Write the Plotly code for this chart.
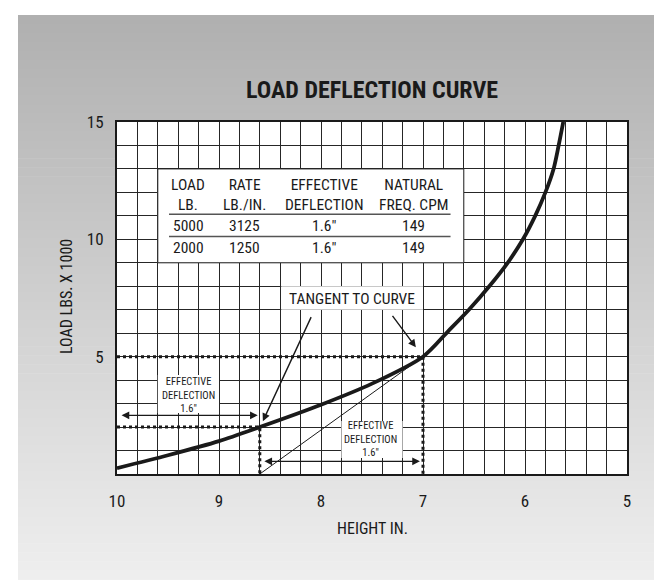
import plotly.graph_objects as go

# ---------------- data ----------------
height_in = [10.0, 9.5, 9.0, 8.6, 8.0, 7.5, 7.0, 6.75, 6.55, 6.35, 6.17, 6.02, 5.9, 5.8, 5.72, 5.67, 5.625]
load_k = [0.25, 0.8, 1.4, 2.0, 2.95, 3.85, 5.0, 6.1, 7.0, 8.0, 9.0, 10.0, 11.0, 12.0, 13.0, 14.0, 15.0]

x_ticks = [10, 9, 8, 7, 6, 5]
y_ticks = [5, 10, 15]

table_header1 = ["LOAD", "RATE", "EFFECTIVE", "NATURAL"]
table_header2 = ["LB.", "LB./IN.", "DEFLECTION", "FREQ. CPM"]
table_row1 = ["5000", "3125", '1.6"', "149"]
table_row2 = ["2000", "1250", '1.6"', "149"]

op_loads = [5.0, 2.0]        # load x1000 at operating points
op_heights = [7.0, 8.6]      # height at operating points
tangent_zero_height = 8.6    # tangent at 5000 lb meets zero load here
deflection_label = ["EFFECTIVE", "DEFLECTION", '1.6"']

# ---------------- style ----------------
FONT = "Roboto Condensed, Roboto, sans-serif"
INK = "#1a1a1a"
GRID = "#262626"

L, R, T, B = 109, 43, 114, 114
W, H = 662, 580
pw, ph = W - L - R, H - T - B


def px2paper_x(px):
    return (px - L) / pw


def px2paper_y(py):
    return (H - B - py) / ph


fig = go.Figure()

# curve
fig.add_trace(go.Scatter(x=height_in, y=load_k, mode="lines",
                         line=dict(color=INK, width=3.8, shape="spline", smoothing=0.8),
                         hoverinfo="skip", showlegend=False))
# tangent line
fig.add_trace(go.Scatter(x=[op_heights[0], tangent_zero_height], y=[op_loads[0], 0],
                         mode="lines", line=dict(color=INK, width=1),
                         hoverinfo="skip", showlegend=False))
# dotted guides
for h, ld in zip(op_heights, op_loads):
    fig.add_trace(go.Scatter(x=[x_ticks[0], h, h], y=[ld, ld, 0], mode="lines",
                             line=dict(color=INK, width=3, dash="3px,3px"),
                             hoverinfo="skip", showlegend=False))

shapes = []
# background gradient (top gray -> bottom light)
top_px, bot_px = 7, 580
n = 64
c0, c1 = 0xB0, 0xEF
for i in range(n):
    y0 = top_px + (bot_px - top_px) * i / n
    y1 = top_px + (bot_px - top_px) * (i + 1) / n + 0.6
    c = round(c0 + (c1 - c0) * (i + 0.5) / n)
    col = f"rgb({c},{c},{c})"
    shapes.append(dict(type="rect", xref="paper", yref="paper",
                       x0=px2paper_x(10), x1=px2paper_x(658),
                       y0=px2paper_y(y1), y1=px2paper_y(y0),
                       fillcolor=col, line=dict(width=0), layer="below"))
# white plot area
shapes.append(dict(type="rect", xref="x", yref="y", x0=10, x1=5, y0=0, y1=15,
                   fillcolor="white", line=dict(width=0), layer="below"))
# table box
shapes.append(dict(type="rect", xref="x", yref="y", x0=9.6, x1=6.6, y0=9, y1=13,
                   fillcolor="white", line=dict(color=GRID, width=1), layer="above"))
# table separators
for yy in [11.07, 10.12]:
    shapes.append(dict(type="line", xref="x", yref="y", x0=9.49, x1=6.73, y0=yy, y1=yy,
                       line=dict(color="#555", width=1.5), layer="above"))
# label boxes
shapes.append(dict(type="rect", xref="x", yref="y", x0=8.39, x1=7.0, y0=7.0, y1=8.0,
                   fillcolor="white", line=dict(width=0), layer="above"))
shapes.append(dict(type="rect", xref="x", yref="y", x0=9.6, x1=9.0, y0=2.6, y1=4.22,
                   fillcolor="white", line=dict(width=0), layer="above"))
shapes.append(dict(type="rect", xref="x", yref="y", x0=7.8, x1=7.2, y0=0.68, y1=2.26,
                   fillcolor="white", line=dict(width=0), layer="above"))

ann = []
# title and axis titles
ann.append(dict(text="<b>LOAD DEFLECTION CURVE</b>", xref="paper", yref="paper",
                x=0.5, y=px2paper_y(82), showarrow=False, xanchor="center", yanchor="middle",
                font=dict(family=FONT, size=24, color=INK)))
ann.append(dict(text="HEIGHT IN.", xref="paper", yref="paper",
                x=0.5, y=px2paper_y(520), showarrow=False, xanchor="center", yanchor="middle",
                font=dict(family=FONT, size=16, color=INK)))
ann.append(dict(text="LOAD LBS. X 1000", xref="paper", yref="paper", textangle=-90,
                x=px2paper_x(58), y=px2paper_y(289), showarrow=False, xanchor="center", yanchor="middle",
                font=dict(family=FONT, size=16, color=INK)))

# table text
col_x = [9.30, 8.75, 7.97, 7.09]
header_y = 11.9
row_y = [10.58, 9.63]
for h1, h2, xx in zip(table_header1, table_header2, col_x):
    ann.append(dict(text=f"{h1}<br>{h2}", x=xx, y=header_y, xref="x", yref="y", showarrow=False,
                    xanchor="center", yanchor="middle",
                    font=dict(family=FONT, size=15.5, color=INK)))
for rows, yy in zip([table_row1, table_row2], row_y):
    for txt, xx in zip(rows, col_x):
        ann.append(dict(text=txt, x=xx, y=yy, xref="x", yref="y", showarrow=False,
                        xanchor="center", yanchor="middle",
                        font=dict(family=FONT, size=15.5, color=INK)))

# tangent label
ann.append(dict(text="TANGENT TO CURVE", x=7.70, y=7.47, xref="x", yref="y", showarrow=False,
                xanchor="center", yanchor="middle", font=dict(family=FONT, size=15.5, color=INK)))

# small deflection labels
for cx, cy in [(9.30, 3.38), (7.51, 1.48)]:
    ann.append(dict(text="<br>".join(deflection_label), x=cx, y=cy, xref="x", yref="y",
                    showarrow=False, xanchor="center", yanchor="middle",
                    font=dict(family=FONT, size=10.5, color=INK)))

# arrows
def arrow(x0, y0, x1, y1, both=False):
    return dict(x=x1, y=y1, ax=x0, ay=y0, xref="x", yref="y", axref="x", ayref="y",
                text="", showarrow=True, arrowhead=2, arrowsize=1.1, arrowwidth=1.4,
                arrowcolor=INK, arrowside="end+start" if both else "end", standoff=0, startstandoff=0)

ann.append(arrow(9.97, 2.5, 8.62, 2.5, both=True))
ann.append(arrow(8.57, 0.54, 7.03, 0.54, both=True))
ann.append(arrow(8.09, 6.75, 8.57, 2.25))
ann.append(arrow(7.31, 6.8, 7.07, 5.4))

fig.update_layout(
    width=W, height=H,
    margin=dict(l=L, r=R, t=T, b=B),
    paper_bgcolor="white", plot_bgcolor="white",
    shapes=shapes, annotations=ann, showlegend=False,
    font=dict(family=FONT, color=INK),
)
fig.update_xaxes(range=[10, 5], tickvals=x_ticks, ticktext=[str(v) for v in x_ticks],
                 showgrid=True, gridcolor=GRID, gridwidth=1,
                 minor=dict(tickmode="linear", tick0=0, dtick=0.2, showgrid=True, gridcolor=GRID, gridwidth=1),
                 showline=True, mirror=True, linecolor=INK, linewidth=2,
                 ticks="", ticklabelstandoff=11, tickfont=dict(family=FONT, size=17, color=INK),
                 zeroline=False)
fig.update_yaxes(range=[0, 15], tickvals=y_ticks, ticktext=[str(v) for v in y_ticks],
                 showgrid=True, gridcolor=GRID, gridwidth=1,
                 minor=dict(tickmode="linear", tick0=0, dtick=1, showgrid=True, gridcolor=GRID, gridwidth=1),
                 showline=True, mirror=True, linecolor=INK, linewidth=2,
                 ticks="", ticklabelstandoff=8, tickfont=dict(family=FONT, size=17, color=INK),
                 zeroline=False)

fig.write_html("out.html")
